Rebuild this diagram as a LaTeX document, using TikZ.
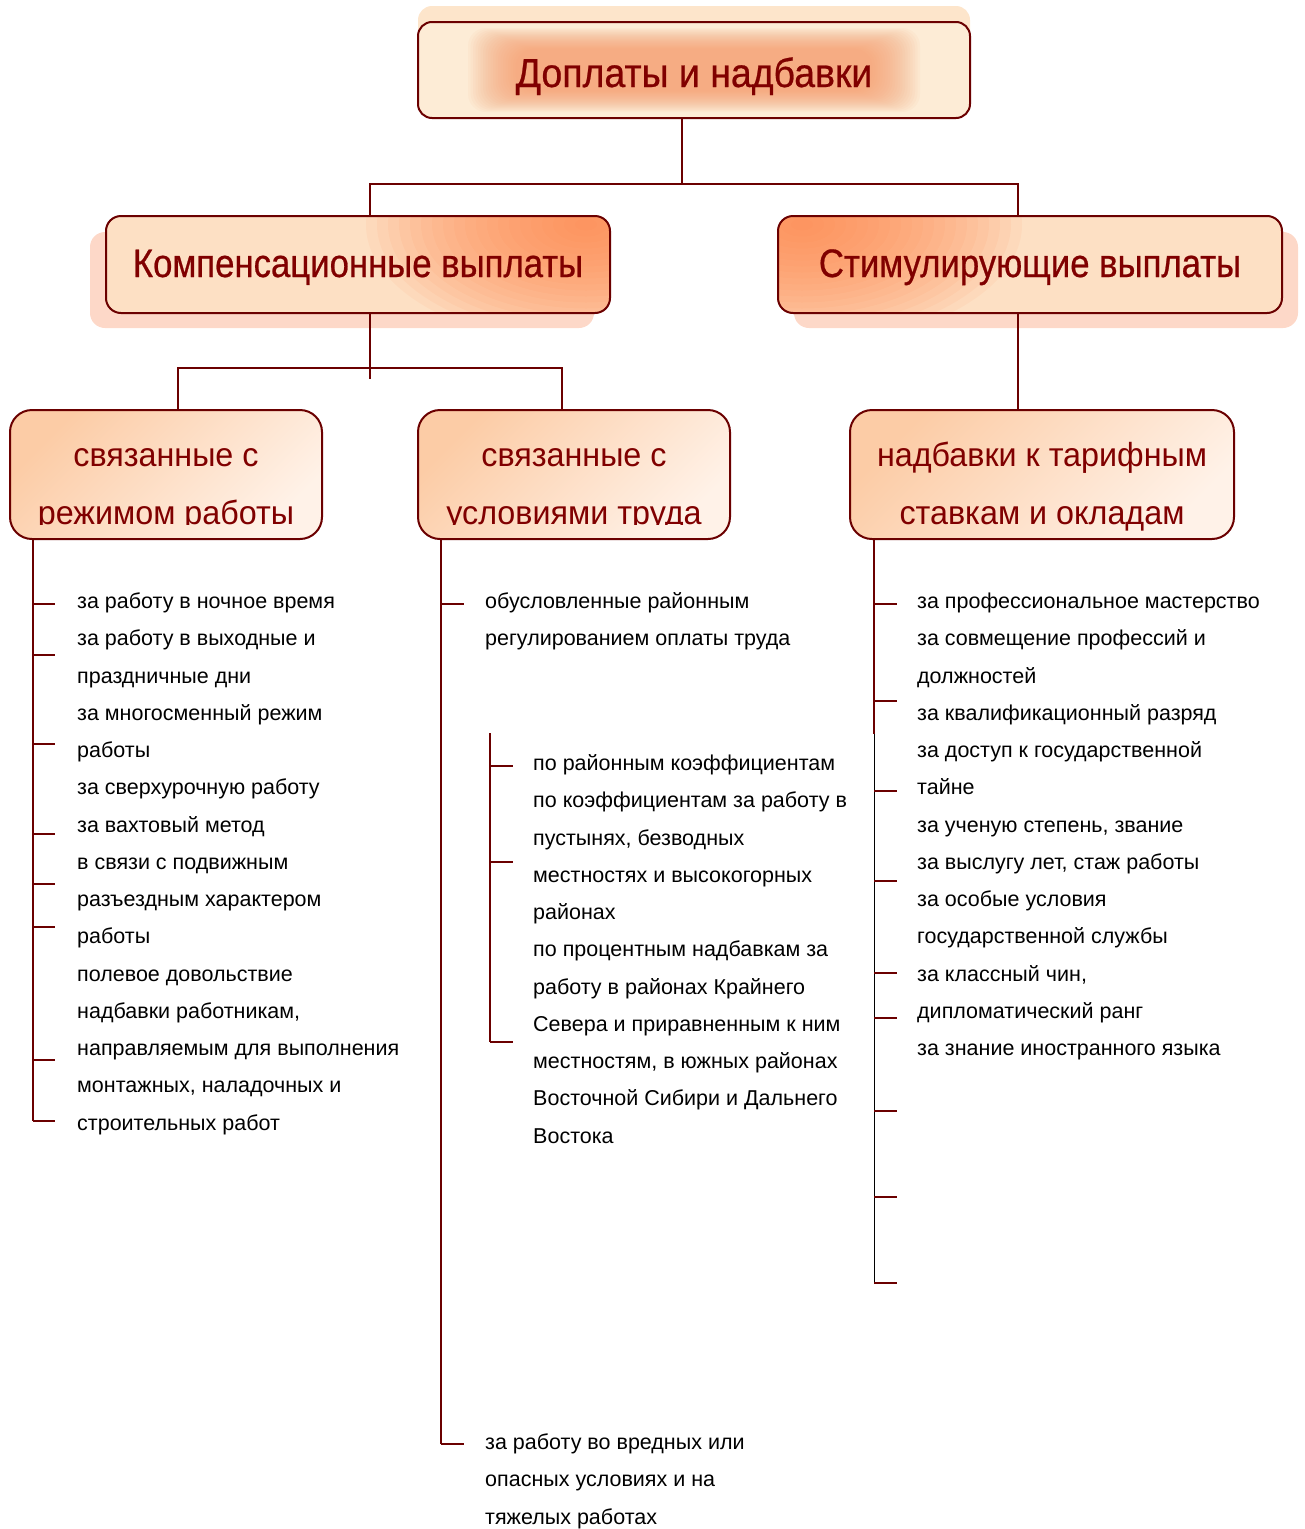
\documentclass[tikz,border=0pt]{standalone}
\usepackage{fontspec}
\setmainfont{Liberation Sans}
\usepackage{tikz}
\usetikzlibrary{positioning}
\definecolor{lin}{RGB}{107,0,0}
\definecolor{ttl}{RGB}{128,0,0}
\definecolor{peach}{RGB}{253,224,196}
\definecolor{orng}{RGB}{255,136,76}
\definecolor{shad}{RGB}{253,216,200}
\definecolor{topbg}{RGB}{253,229,203}
\definecolor{cream}{RGB}{253,236,214}
\definecolor{glow}{RGB}{246,150,100}
\definecolor{sdark}{RGB}{252,204,166}
\definecolor{pale}{RGB}{255,242,232}
\definecolor{thin}{RGB}{222,196,204}

\begin{document}
\begin{tikzpicture}[x=1pt,y=-1pt,
  conn/.style={draw=lin,line width=2pt},
  box/.style={draw=lin,line width=2pt,rounded corners=15pt,text=ttl,inner sep=0pt},
  title/.style={box,fill=peach,minimum width=504,minimum height=97,text height=25pt,text depth=0pt,
    font=\fontsize{39.7}{44}\selectfont\addfontfeature{FakeStretch=0.875,FakeBold=0.6}},
  hot/.style={path picture={\foreach \k in {1,...,20}
    \fill[orng,opacity=.075] ([shift={#1}]path picture bounding box.center) ellipse ({11*\k} and {6*\k});}},
  sub/.style={box,rounded corners=22pt,minimum height=129,top color=sdark,bottom color=pale,shading angle=45},
  boxtxt/.style={text=ttl,font=\fontsize{33.4}{38}\selectfont\addfontfeature{FakeStretch=0.967},anchor=base,inner sep=0pt},
  item/.style={font=\fontsize{21.5}{26}\selectfont,anchor=base west,inner sep=0pt}]
  \useasboundingbox (0,0) rectangle (1305,1529);

  % top
  \fill[topbg,rounded corners=14pt] (418,6) rectangle (970,100);
  \node[box,rounded corners=14pt,minimum width=552,minimum height=96,fill=cream,
    text height=34pt,text depth=0pt,
    font=\fontsize{40.5}{44}\selectfont\addfontfeature{FakeStretch=0.925,FakeBold=0.6},
    path picture={\foreach \k in {0,...,19}
      \fill[glow,opacity=.055,rounded corners=18pt]
        ([shift={(50+2.5*\k,6+1.1*\k)}]path picture bounding box.north west) rectangle
        ([shift={(-50-2.5*\k,-6-1.1*\k)}]path picture bounding box.south east);}]
    (top) at (694,70) {Доплаты и надбавки};

  % second level
  \fill[shad,rounded corners=15pt] (90,232) rectangle (594,328);
  \fill[shad,rounded corners=15pt] (794,232) rectangle (1298,328);
  \node[title,hot={(228,-40)}] (komp) at (358,264.5) {Компенсационные выплаты};
  \node[title,hot={(-228,-40)}] (stim) at (1030,264.5) {Стимулирующие выплаты};

  \draw[conn] ([xshift=-12]top.south) -- ++(0,65) -| ([xshift=12]komp.north);
  \draw[conn] ([xshift=-12]top.south) ++(0,65) -| ([xshift=-12]stim.north);

  % third level
  \node[sub,minimum width=312] (rezhim) at (166,474.5) {};
  \node[sub,minimum width=312] (usl) at (574,474.5) {};
  \node[sub,minimum width=384] (tarif) at (1042,474.5) {};

  \node[boxtxt] (rezhimA) at (166,466) {связанные с};
  \node[boxtxt] (uslA) at (574,466) {связанные с};
  \node[boxtxt] (tarifA) at (1042,466) {надбавки к тарифным};
  \node[boxtxt] (tarifB) at (1042,524) {ставкам и окладам};
  \begin{scope}
    \clip (0,400) rectangle (800,524.5);
    \node[boxtxt] (rezhimB) at (166,524) {режимом работы};
    \node[boxtxt] (uslB) at (574,524) {условиями труда};
  \end{scope}

  \draw[conn] ([xshift=12]komp.south) -- ++(0,65);
  \draw[conn] ([xshift=12]rezhim.north) |- ([yshift=-54pt]komp.south) -| ([xshift=-12]usl.north);
  \draw[conn] ([xshift=-12]stim.south) -- ([xshift=-12]stim.south |- tarif.north);

  % left list
  \coordinate (lbar) at ([xshift=24]rezhim.south west);
  \draw[conn] (lbar) -- ++(0,581);
  \foreach \y in {64,115,204,294,344,387,520,581}
    \draw[conn] (lbar) ++(0,\y) -- ++(22,0);
  \foreach \t [count=\i from 0] in {за работу в ночное время,за работу в выходные и,праздничные дни,
    за многосменный режим,работы,за сверхурочную работу,за вахтовый метод,в связи с подвижным,
    разъездным характером,работы,полевое довольствие,{надбавки работникам,},
    направляемым для выполнения,{монтажных, наладочных и},строительных работ}
    \node[item] (L\i) at (77,608.5+37.25*\i) {\t};

  % middle list
  \coordinate (mbar) at ([xshift=24]usl.south west);
  \draw[conn] (mbar) -- ++(0,904);
  \foreach \y in {64,904}
    \draw[conn] (mbar) ++(0,\y) -- ++(23,0);
  \node[item] (M0) at (485,608.5) {обусловленные районным};
  \node[item] (M1) at (485,645.8) {регулированием оплаты труда};

  \coordinate (sbar) at (490,733);
  \draw[conn] (sbar) -- ++(0,309);
  \foreach \y in {33,129,309}
    \draw[conn] (sbar) ++(0,\y) -- ++(23,0);
  \foreach \t [count=\i from 0] in {по районным коэффициентам,по коэффициентам за работу в,
    {пустынях, безводных},местностях и высокогорных,районах,по процентным надбавкам за,
    работу в районах Крайнего,Севера и приравненным к ним,{местностям, в южных районах},
    Восточной Сибири и Дальнего,Востока}
    \node[item] (S\i) at (533,770.5+37.25*\i) {\t};

  \node[item] (B0) at (485,1449.5) {за работу во вредных или};
  \node[item] (B1) at (485,1486.8) {опасных условиях и на};
  \node[item] (B2) at (485,1524) {тяжелых работах};

  % right list
  \coordinate (rbar) at ([xshift=25]tarif.south west);
  \draw[thin,line width=1pt] (rbar) ++(0,194) -- ++(0,549);
  \draw[conn] (rbar) -- ++(0,194);
  \foreach \y in {64,161,251,341,433,478,571,657,743}
    \draw[conn] (rbar) ++(0,\y) -- ++(23,0);
  \foreach \t [count=\i from 0] in {за профессиональное мастерство,за совмещение профессий и,
    должностей,за квалификационный разряд,за доступ к государственной,тайне,
    {за ученую степень, звание},{за выслугу лет, стаж работы},за особые условия,
    государственной службы,{за классный чин,},дипломатический ранг,за знание иностранного языка}
    \node[item] (R\i) at (917,608.5+37.25*\i) {\t};
\end{tikzpicture}
\end{document}
